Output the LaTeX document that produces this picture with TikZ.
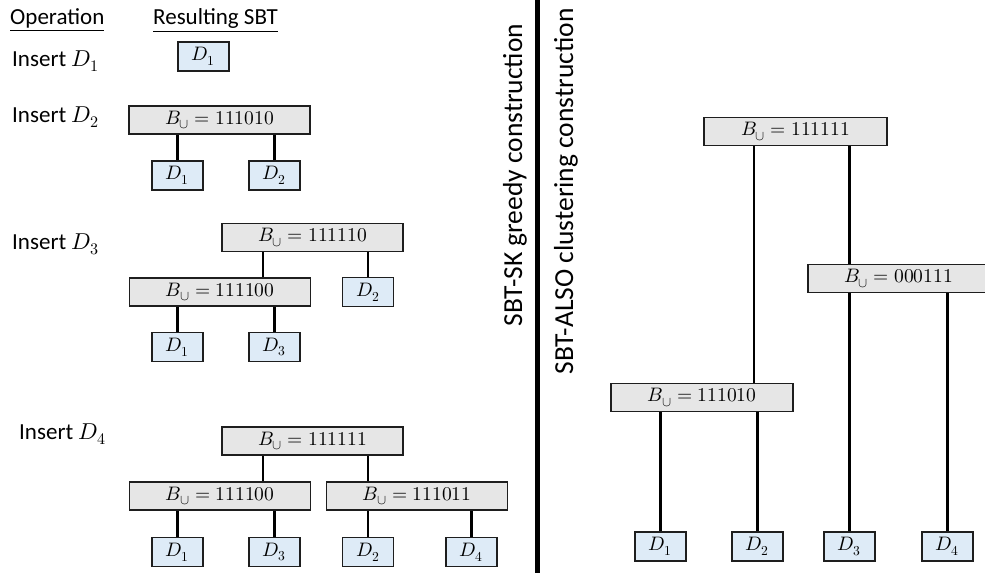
\documentclass[tikz,border=0pt]{standalone}
\usepackage{fontspec}
\usepackage{unicode-math}
\setmainfont{Carlito}
\setmathfont{Latin Modern Math}
\definecolor{grayfill}{RGB}{230,230,230}
\definecolor{bluefill}{RGB}{222,235,247}
\definecolor{edge}{RGB}{30,30,30}
\begin{document}
\begin{tikzpicture}[x=1pt,y=-1pt,
  lab/.style={font=\fontsize{23}{27}\selectfont, inner sep=0, anchor=base west},
  side/.style={font=\fontsize{27.5}{32}\selectfont, inner sep=0, rotate=90, anchor=base},
  gbox/.style={draw=edge, line width=1.8pt, fill=grayfill, minimum width=181, minimum height=28, inner sep=0, font=\fontsize{19.5}{22}\selectfont},
  dbox/.style={draw=edge, line width=1.8pt, fill=bluefill, minimum width=51, minimum height=29, inner sep=0, font=\fontsize{19.5}{22}\selectfont},
  conn/.style={line width=2.8pt, draw=black}]
\useasboundingbox (0,0) rectangle (985,573);

% headers and labels
\node[lab] (hop) at (10,24) {\underline{Operation}};
\node[lab] (hres) at (153,24) {\underline{Resulting SBT}};
\node[lab] (i1) at (12,66) {Insert $D_1$};
\node[lab] (i2) at (12,122) {Insert $D_2$};
\node[lab] (i3) at (12,249) {Insert $D_3$};
\node[lab] (i4) at (19,439) {Insert $D_4$};

% divider and side titles
\coordinate (divtop) at (537.5,0);
\coordinate (divbot) at (537.5,573);
\draw[line width=4.5pt] (divtop) -- (divbot);
\node[side] (sk) at (522,175) {SBT-SK greedy construction};
\node[side] (also) at (573,191.5) {SBT-ALSO clustering construction};

% Insert D1
\node[dbox] (a1) at (203.5,56.5) {$D_1$};

% Insert D2
\node[gbox] (b0) at (219.5,120) {$B_\cup = 111010$};
\node[dbox] (b1) at (177.5,175.5) {$D_1$};
\node[dbox] (b2) at (274.5,175.5) {$D_2$};
\draw[conn] (b1.north) -- (b1.north |- b0.south);
\draw[conn] (b2.north) -- (b2.north |- b0.south);

% Insert D3
\node[gbox] (c0) at (312.5,237.5) {$B_\cup = 111110$};
\node[gbox] (cl) at (220,292) {$B_\cup = 111100$};
\node[dbox] (c2) at (368,292) {$D_2$};
\node[dbox] (c1) at (177.5,347) {$D_1$};
\node[dbox] (c3) at (274.5,347) {$D_3$};
\coordinate (xc) at (263,0);
\draw[conn] (xc |- c0.south) -- (xc |- cl.north);
\draw[conn] (c2.north) -- (c2.north |- c0.south);
\draw[conn] (c1.north) -- (c1.north |- cl.south);
\draw[conn] (c3.north) -- (c3.north |- cl.south);

% Insert D4
\node[gbox] (d0) at (312.5,441) {$B_\cup = 111111$};
\node[gbox] (dl) at (220,496) {$B_\cup = 111100$};
\node[gbox] (dr) at (417,496) {$B_\cup = 111011$};
\node[dbox] (d1) at (177.5,552) {$D_1$};
\node[dbox] (d3) at (274.5,552) {$D_3$};
\node[dbox] (d2) at (368,552) {$D_2$};
\node[dbox] (d4) at (471.5,552) {$D_4$};
\draw[conn] (xc |- d0.south) -- (xc |- dl.north);
\draw[conn] (d2.north |- d0.south) -- (d2.north |- dr.north);
\draw[conn] (d1.north) -- (d1.north |- dl.south);
\draw[conn] (d3.north) -- (d3.north |- dl.south);
\draw[conn] (d2.north) -- (d2.north |- dr.south);
\draw[conn] (d4.north) -- (d4.north |- dr.south);

% SBT-ALSO tree
\node[gbox, minimum width=183] (r0) at (795.5,131.5) {$B_\cup = 111111$};
\node[gbox] (r2) at (898.5,278.5) {$B_\cup = 000111$};
\node[gbox, minimum width=182] (r1) at (702,397.5) {$B_\cup = 111010$};
\node[dbox] (e1) at (660.5,546.5) {$D_1$};
\node[dbox] (e2) at (757.5,546.5) {$D_2$};
\node[dbox] (e3) at (849.5,546.5) {$D_3$};
\node[dbox] (e4) at (947.5,546.5) {$D_4$};
\coordinate (xr) at (754,0);
\draw[conn] (xr |- r0.south) -- (xr |- r1.north);
\draw[conn] (e3.north |- r0.south) -- (e3.north |- r2.north);
\draw[conn] (e1.north) -- (e1.north |- r1.south);
\draw[conn] (e2.north) -- (e2.north |- r1.south);
\draw[conn] (e3.north) -- (e3.north |- r2.south);
\draw[conn] (e4.north) -- (e4.north |- r2.south);
\end{tikzpicture}
\end{document}
